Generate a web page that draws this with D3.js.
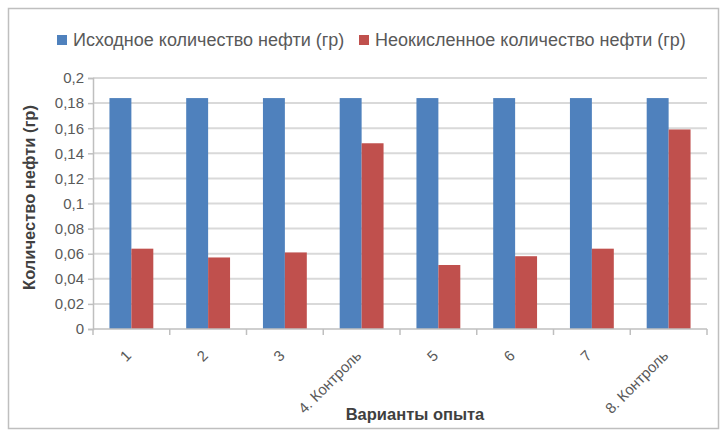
<!DOCTYPE html>
<html>
<head>
<meta charset="utf-8">
<script src="https://cdn.jsdelivr.net/npm/d3@7"></script>
<style>
  html, body { margin: 0; padding: 0; background: #fff; }
  svg { display: block; font-family: "Liberation Sans", Arial, sans-serif; }
</style>
</head>
<body>
<svg id="chart" width="722" height="437"></svg>
<script>
// Oil amount per experiment variant, grams
const categories = ["1", "2", "3", "4. Контроль", "5", "6", "7", "8. Контроль"];
const initialOil = [0.184, 0.184, 0.184, 0.184, 0.184, 0.184, 0.184, 0.184];
const unoxidizedOil = [0.064, 0.057, 0.061, 0.148, 0.051, 0.058, 0.064, 0.159];
const seriesNames = ["Исходное количество нефти (гр)", "Неокисленное количество нефти (гр)"];
const seriesColors = ["#4F81BD", "#C0504D"];
const yTicks = [0, 0.02, 0.04, 0.06, 0.08, 0.1, 0.12, 0.14, 0.16, 0.18, 0.2];
const yTitle = "Количество нефти (гр)";
const xTitle = "Варианты опыта";

const svg = d3.select("#chart");
const plot = { left: 93, right: 707, top: 78, bottom: 329 };
const fontSize = 15;
const legendFont = 18;
const titleFont = 16.5;
const textColor = "#595959";

// outer frame
svg.append("rect")
  .attr("x", 8.5).attr("y", 8.5)
  .attr("width", 710).attr("height", 420)
  .attr("fill", "#fff").attr("stroke", "#BFBFBF").attr("stroke-width", 1.5);

const x0 = d3.scaleBand().domain(categories).range([plot.left, plot.right]).padding(0);
const x1 = d3.scaleBand().domain([0, 1]).range([0, x0.bandwidth()]).paddingInner(0).paddingOuter(0.75);
const y = d3.scaleLinear().domain([0, 0.2]).range([plot.bottom, plot.top]);

const fmt = d => d3.format("~g")(d).replace(".", ",");

// horizontal gridlines
svg.append("g")
  .selectAll("line")
  .data(yTicks.filter(t => t > 0))
  .join("line")
  .attr("x1", plot.left).attr("x2", plot.right)
  .attr("y1", d => y(d)).attr("y2", d => y(d))
  .attr("stroke", "#D9D9D9").attr("stroke-width", 2);

// y axis
const yAxis = svg.append("g")
  .attr("transform", `translate(${plot.left},0)`)
  .call(d3.axisLeft(y).tickValues(yTicks).tickFormat(fmt).tickSize(5).tickPadding(4));
yAxis.select(".domain").attr("stroke", "#BFBFBF").attr("stroke-width", 1.5);
yAxis.selectAll(".tick line").attr("stroke", "#BFBFBF").attr("stroke-width", 1.5);
yAxis.selectAll(".tick text")
  .attr("fill", textColor).attr("font-size", fontSize)
  .attr("font-family", "Liberation Sans, Arial, sans-serif");

// bars
const groups = svg.append("g")
  .selectAll("g")
  .data(categories.map((c, i) => ({ c, vals: [initialOil[i], unoxidizedOil[i]] })))
  .join("g")
  .attr("transform", d => `translate(${x0(d.c)},0)`);

groups.selectAll("rect")
  .data(d => d.vals.map((v, k) => ({ v, k })))
  .join("rect")
  .attr("x", d => x1(d.k))
  .attr("width", x1.bandwidth())
  .attr("y", d => y(d.v))
  .attr("height", d => y(0) - y(d.v))
  .attr("fill", d => seriesColors[d.k]);

// x axis
const xAxis = svg.append("g")
  .attr("transform", `translate(0,${plot.bottom})`);
xAxis.append("line")
  .attr("x1", plot.left).attr("x2", plot.right)
  .attr("stroke", "#BFBFBF").attr("stroke-width", 1.5);
const bounds = categories.map(c => x0(c)).concat([plot.right]);
xAxis.selectAll("line.tick")
  .data(bounds)
  .join("line")
  .attr("class", "tick")
  .attr("x1", d => d).attr("x2", d => d)
  .attr("y1", 0).attr("y2", 6)
  .attr("stroke", "#BFBFBF").attr("stroke-width", 1.5);
xAxis.selectAll("text")
  .data(categories)
  .join("text")
  .attr("transform", d => `translate(${x0(d) + x0.bandwidth() / 2 - 3},${24}) rotate(-45)`)
  .attr("text-anchor", "end")
  .attr("dy", "0.35em")
  .attr("fill", textColor)
  .attr("font-size", fontSize)
  .text(d => d);

// axis titles
svg.append("text")
  .attr("transform", `translate(29,${(plot.top + plot.bottom) / 2 - 6}) rotate(-90)`)
  .attr("text-anchor", "middle")
  .attr("dy", "0.35em")
  .attr("font-weight", "bold")
  .attr("font-size", titleFont)
  .attr("fill", "#404040")
  .text(yTitle);

svg.append("text")
  .attr("x", 415).attr("y", 420)
  .attr("text-anchor", "middle")
  .attr("font-weight", "bold")
  .attr("font-size", titleFont)
  .attr("fill", "#404040")
  .text(xTitle);

// legend
const legendX = [57, 359];
const legend = svg.append("g")
  .selectAll("g")
  .data(seriesNames)
  .join("g")
  .attr("transform", (d, i) => `translate(${legendX[i]},40)`);
legend.append("rect")
  .attr("x", 0).attr("y", -5)
  .attr("width", 10).attr("height", 10)
  .attr("fill", (d, i) => seriesColors[i]);
legend.append("text")
  .attr("x", 16).attr("dy", "0.35em")
  .attr("font-size", legendFont)
  .attr("fill", textColor)
  .text(d => d);
</script>
</body>
</html>
